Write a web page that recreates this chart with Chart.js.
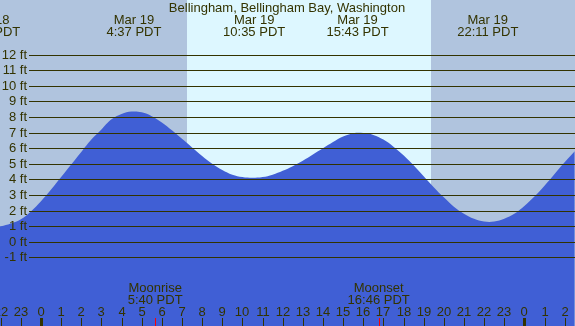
<!DOCTYPE html>
<html>
<head>
<meta charset="utf-8">
<script src="https://cdn.jsdelivr.net/npm/chart.js@4"></script>
<style>
  body { margin: 0; background: #fff; }
  #tideChart { display: block; }
</style>
</head>
<body>
<canvas id="tideChart" width="575" height="326"></canvas>
<script>
// tide heights (ft), every half hour (hour 0 = Mar 19 00:00)
var hours = [-2.5, -2, -1.5, -1, -0.5, 0, 0.5, 1, 1.5, 2, 2.5, 3, 3.5, 4, 4.5, 5, 5.5, 6, 6.5, 7, 7.5, 8, 8.5, 9, 9.5, 10, 10.5, 11, 11.5, 12, 12.5, 13, 13.5, 14, 14.5, 15, 15.5, 16, 16.5, 17, 17.5, 18, 18.5, 19, 19.5, 20, 20.5, 21, 21.5, 22, 22.5, 23, 23.5, 24, 24.5, 25, 25.5, 26, 26.5];
var tideFt = [0.93, 1.0, 1.18, 1.45, 1.95, 2.6, 3.35, 4.15, 4.95, 5.75, 6.55, 7.2, 7.85, 8.2, 8.35, 8.3, 8.05, 7.65, 7.15, 6.6, 6.05, 5.5, 5.0, 4.6, 4.3, 4.15, 4.1, 4.15, 4.3, 4.55, 4.85, 5.2, 5.6, 6.0, 6.4, 6.75, 6.95, 6.97, 6.85, 6.55, 6.1, 5.55, 4.9, 4.2, 3.5, 2.85, 2.25, 1.8, 1.47, 1.3, 1.3, 1.48, 1.8, 2.3, 2.9, 3.6, 4.35, 5.1, 5.8];

var yTicks = [12, 11, 10, 9, 8, 7, 6, 5, 4, 3, 2, 1, 0, -1];
var hourTicks = [-2, -1, 0, 1, 2, 3, 4, 5, 6, 7, 8, 9, 10, 11, 12, 13, 14, 15, 16, 17, 18, 19, 20, 21, 22, 23, 24, 25, 26];
var hourLabels = ["22", "23", "0", "1", "2", "3", "4", "5", "6", "7", "8", "9", "10", "11", "12", "13", "14", "15", "16", "17", "18", "19", "20", "21", "22", "23", "0", "1", "2"];

var extremeHours = [-2.57, 4.617, 10.583, 15.717, 22.183];
var extremeDays = ["Mar 18", "Mar 19", "Mar 19", "Mar 19", "Mar 19"];
var extremeTimes = ["21:26 PDT", "4:37 PDT", "10:35 PDT", "15:43 PDT", "22:11 PDT"];

var sunHours = [7.235, 19.365]; // sunrise, sunset
var moonHours = [5.667, 16.767];
var moonNames = ["Moonrise", "Moonset"];
var moonTimes = ["5:40 PDT", "16:46 PDT"];

var stationName = "Bellingham, Bellingham Bay, Washington";

var nightColor = "#b0c4de";
var dayColor = "#ddf7ff";
var waterColor = "#405fd5";
var inkColor = "#333300";
var font = '13px "Liberation Sans", Arial, sans-serif';

// background: night / day shading
var shadePlugin = {
  id: 'shade',
  beforeDraw: function (chart) {
    var ctx = chart.ctx;
    var x = chart.scales.x;
    var w = chart.width, h = chart.height;
    var rise = Math.round(x.getPixelForValue(sunHours[0]));
    var set = Math.round(x.getPixelForValue(sunHours[1]));
    ctx.save();
    ctx.fillStyle = nightColor;
    ctx.fillRect(0, 0, w, h);
    ctx.fillStyle = dayColor;
    ctx.fillRect(rise, 0, set - rise, h);
    ctx.restore();
  }
};

// grid lines, labels and ticks on top of the water
var overlayPlugin = {
  id: 'overlay',
  afterDatasetsDraw: function (chart) {
    var ctx = chart.ctx;
    var x = chart.scales.x;
    var y = chart.scales.y;
    var w = chart.width, h = chart.height;
    ctx.save();
    ctx.font = font;
    ctx.fillStyle = inkColor;
    ctx.strokeStyle = inkColor;
    ctx.lineWidth = 1;

    // y grid + labels
    yTicks.forEach(function (v) {
      var py = Math.round(y.getPixelForValue(v)) + 0.5;
      ctx.beginPath();
      ctx.moveTo(29, py);
      ctx.lineTo(w, py);
      ctx.stroke();
      ctx.textAlign = 'right';
      ctx.textBaseline = 'middle';
      ctx.fillText(v + ' ft', 27, py);
    });

    // title
    ctx.textAlign = 'center';
    ctx.textBaseline = 'alphabetic';
    ctx.fillText(stationName, 287, 12);

    // high / low times
    extremeHours.forEach(function (hr, i) {
      var px = x.getPixelForValue(hr);
      ctx.fillText(extremeDays[i], px, 24);
      ctx.fillText(extremeTimes[i], px, 36);
    });

    // moon rise / set
    moonHours.forEach(function (hr, i) {
      var px = x.getPixelForValue(hr);
      ctx.fillText(moonNames[i], px, 292);
      ctx.fillText(moonTimes[i], px, 304);
    });

    // hour ticks and labels
    hourTicks.forEach(function (hr, i) {
      var px = Math.round(x.getPixelForValue(hr));
      ctx.fillStyle = inkColor;
      ctx.fillText(hourLabels[i], px, 316);
      if (hourLabels[i] === "0") {
        ctx.fillRect(px - 1, 318, 3, h - 318);
      } else {
        ctx.fillRect(px, 318, 1, h - 318);
      }
    });

    // moon ticks
    ctx.fillStyle = '#ff0000';
    moonHours.forEach(function (hr) {
      var px = Math.round(x.getPixelForValue(hr));
      ctx.fillRect(px, 318, 1, h - 318);
    });
    ctx.restore();
  }
};

var tideChart = new Chart(document.querySelector('#tideChart'), {
  type: 'line',
  data: {
    datasets: [
      {
        data: hours.map(function (hr, i) { return { x: hr, y: tideFt[i] }; }),
        fill: 'start',
        backgroundColor: waterColor,
        borderColor: waterColor,
        borderWidth: 0,
        pointRadius: 0,
        tension: 0.4
      }
    ]
  },
  options: {
    responsive: false,
    animation: false,
    layout: { padding: 0 },
    plugins: {
      legend: { display: false },
      tooltip: { enabled: false }
    },
    scales: {
      x: { type: 'linear', display: false, min: -2.0357, max: 26.514 },
      y: { type: 'linear', display: false, min: -5.397, max: 15.5 }
    }
  },
  plugins: [shadePlugin, overlayPlugin]
});
</script>
</body>
</html>
